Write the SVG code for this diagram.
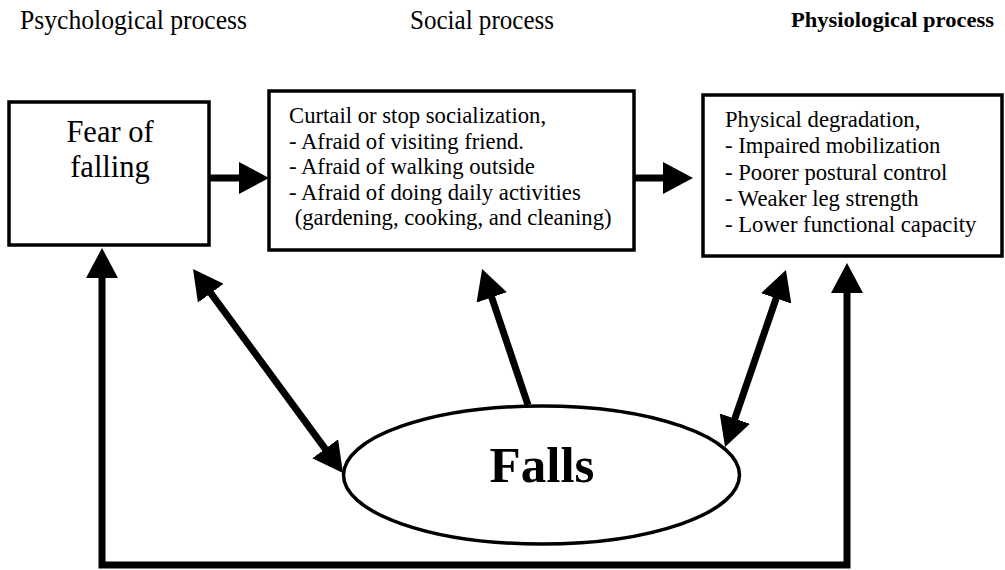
<svg xmlns="http://www.w3.org/2000/svg" width="1005" height="570" viewBox="0 0 1005 570">
<style>
.box{fill:#fff;stroke:#000;stroke-width:3.5}
.t{font-family:"Liberation Serif","Times New Roman",serif;fill:#000}
.bt{font-size:22.7px}
.hd{font-size:27px}
.con{fill:none;stroke:#000;stroke-width:7;stroke-linejoin:miter}
</style>
<defs>
<marker id="ah" viewBox="0 0 30 32" markerWidth="30" markerHeight="32" refX="1" refY="16" markerUnits="userSpaceOnUse" orient="auto-start-reverse">
<path d="M0,0 L30,16 L0,32 z" fill="#000"/>
</marker>
</defs>
<rect width="1005" height="570" fill="#fff"/>
<g id="headers">
<text class="t hd" x="20" y="29" textLength="227" lengthAdjust="spacingAndGlyphs">Psychological process</text>
<text class="t hd" x="410" y="29" textLength="144" lengthAdjust="spacingAndGlyphs">Social process</text>
<text class="t" x="791" y="27" font-size="22" font-weight="bold" textLength="203" lengthAdjust="spacingAndGlyphs">Physiological process</text>
</g>
<g id="connectors">
<path class="con" d="M209,178 L240,178" marker-end="url(#ah)"/>
<path class="con" d="M634,178 L664,178" marker-end="url(#ah)"/>
<path class="con" d="M102,277 L102,565 L847,565 L847,292" marker-start="url(#ah)" marker-end="url(#ah)"/>
<path class="con" d="M210.2,292.4 L325.8,449.6" marker-start="url(#ah)" marker-end="url(#ah)"/>
<path class="con" d="M528,405 L491.4,296.5" marker-end="url(#ah)"/>
<path class="con" d="M776.5,297.4 L734.5,419.6" marker-start="url(#ah)" marker-end="url(#ah)"/>
</g>
<g id="fear">
<rect class="box" x="9" y="102" width="200" height="143"/>
<text class="t" x="110" y="142" font-size="30.5" text-anchor="middle">Fear of</text>
<text class="t" x="110" y="177" font-size="30.5" text-anchor="middle">falling</text>
</g>
<g id="social">
<rect class="box" x="269" y="91" width="365" height="159"/>
<text class="t bt" x="289" y="123">Curtail or stop socialization,</text>
<text class="t bt" x="289" y="148.5">- Afraid of visiting friend.</text>
<text class="t bt" x="289" y="174">- Afraid of walking outside</text>
<text class="t bt" x="289" y="199.5">- Afraid of doing daily activities</text>
<text class="t bt" x="289" y="225" xml:space="preserve"> (gardening, cooking, and cleaning)</text>
</g>
<g id="physio">
<rect class="box" x="703" y="95" width="299" height="161"/>
<text class="t bt" x="725" y="127">Physical degradation,</text>
<text class="t bt" x="725" y="153">- Impaired mobilization</text>
<text class="t bt" x="725" y="180">- Poorer postural control</text>
<text class="t bt" x="725" y="206">- Weaker leg strength</text>
<text class="t bt" x="725" y="232">- Lower functional capacity</text>
</g>
<g id="falls">
<ellipse cx="541.5" cy="475" rx="198" ry="69" fill="#fff" stroke="#000" stroke-width="3.5"/>
<text class="t" x="542" y="482" font-size="51" font-weight="bold" text-anchor="middle">Falls</text>
</g>
</svg>
